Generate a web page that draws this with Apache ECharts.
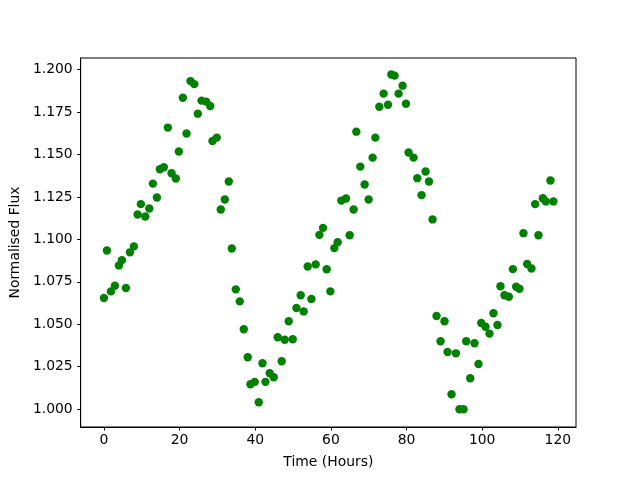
<!DOCTYPE html>
<html>
<head>
<meta charset="utf-8">
<script src="https://cdn.jsdelivr.net/npm/echarts@6/dist/echarts.min.js"></script>
<style>
  html, body { margin: 0; padding: 0; background: #fff; }
  #main { width: 640px; height: 480px; }
</style>
</head>
<body>
<div id="main"></div>
<script>
// time of each sample, hours
var hours = [
  0.00, 0.79, 1.85, 2.90, 3.96, 4.75, 5.81, 6.87, 7.92, 8.90,
  9.77, 10.93, 11.99, 12.94, 14.00, 14.79, 15.84, 16.90, 17.88, 19.01,
  19.80, 20.86, 21.84, 22.89, 23.87, 24.82, 25.80, 27.04, 28.10, 28.70,
  29.84, 30.89, 31.95, 33.01, 33.80, 34.86, 35.91, 36.97, 38.02, 38.74,
  39.87, 40.93, 41.91, 42.70, 43.83, 44.89, 45.95, 47.00, 47.80, 48.85,
  49.91, 50.89, 52.02, 52.81, 53.87, 54.85, 55.98, 56.96, 57.93, 58.89,
  59.86, 60.92, 61.79, 62.77, 64.01, 64.96, 66.01, 66.73, 67.78, 68.92,
  69.98, 71.03, 71.75, 72.80, 73.94, 75.10, 75.97, 76.84, 77.90, 78.95,
  79.85, 80.54, 81.86, 82.84, 83.97, 85.03, 85.93, 86.88, 87.93, 88.99,
  90.04, 90.84, 91.89, 93.05, 94.00, 95.06, 95.77, 96.83, 97.97, 99.02,
  99.74, 100.87, 101.93, 102.98, 104.04, 104.83, 105.89, 107.05, 108.11, 108.98,
  109.85, 110.91, 111.88, 113.02, 114.00, 114.87, 116.03, 116.82, 118.04, 118.83
];
// normalised flux of each sample
var flux = [
  1.0655, 1.0935, 1.0694, 1.0727, 1.0847, 1.0878, 1.0714, 1.0924, 1.0959, 1.1147,
  1.1208, 1.1135, 1.1182, 1.1329, 1.1247, 1.1414, 1.1425, 1.1659, 1.1390, 1.1359,
  1.1518, 1.1835, 1.1624, 1.1933, 1.1915, 1.1741, 1.1818, 1.1812, 1.1786, 1.1580,
  1.1600, 1.1176, 1.1235, 1.1341, 1.0947, 1.0706, 1.0635, 1.0471, 1.0306, 1.0147,
  1.0161, 1.0041, 1.0271, 1.0161, 1.0212, 1.0188, 1.0424, 1.0282, 1.0409, 1.0518,
  1.0412, 1.0596, 1.0671, 1.0576, 1.0841, 1.0649, 1.0853, 1.1027, 1.1068, 1.0824,
  1.0694, 1.0949, 1.0984, 1.1229, 1.1241, 1.1025, 1.1176, 1.1635, 1.1429, 1.1324,
  1.1235, 1.1482, 1.1600, 1.1782, 1.1859, 1.1794, 1.1972, 1.1965, 1.1859, 1.1906,
  1.1800, 1.1512, 1.1482, 1.1361, 1.1261, 1.1400, 1.1341, 1.1118, 1.0549, 1.0400,
  1.0518, 1.0337, 1.0088, 1.0329, 1.0000, 1.0000, 1.0400, 1.0182, 1.0388, 1.0266,
  1.0508, 1.0486, 1.0445, 1.0565, 1.0496, 1.0724, 1.0671, 1.0662, 1.0825, 1.0721,
  1.0709, 1.1037, 1.0855, 1.0829, 1.1208, 1.1025, 1.1243, 1.1224, 1.1347, 1.1224
];
var xTicks = [0, 20, 40, 60, 80, 100, 120];
var yTicks = [1.000, 1.025, 1.050, 1.075, 1.100, 1.125, 1.150, 1.175, 1.200];

var chart = echarts.init(document.getElementById('main'));
var font = 'DejaVu Sans';
var pts = hours.map(function (h, i) { return [h, flux[i]]; });

chart.setOption({
    animation: false,
    backgroundColor: '#fff',
    grid: { left: 80, right: 64, top: 58, bottom: 53, show: true, borderColor: '#000', borderWidth: 1 },
    xAxis: {
        type: 'value', min: -6.15, max: 124.8,
        name: 'Time (Hours)', nameLocation: 'middle', nameGap: 28,
        nameTextStyle: { fontFamily: font, fontSize: 13.9, color: '#000' },
        axisLine: { show: true, onZero: false, lineStyle: { color: '#000', width: 1 } },
        axisTick: { show: true, inside: false, length: 3.5, lineStyle: { color: '#000', width: 1 }, customValues: xTicks },
        axisLabel: { fontFamily: font, fontSize: 13.9, color: '#000', margin: 6, customValues: xTicks },
        splitLine: { show: false }
    },
    yAxis: {
        type: 'value', min: 0.9895, max: 1.2069,
        name: 'Normalised Flux', nameLocation: 'middle', nameGap: 53,
        nameTextStyle: { fontFamily: font, fontSize: 13.9, color: '#000' },
        axisLine: { show: true, onZero: false, lineStyle: { color: '#000', width: 1 } },
        axisTick: { show: true, inside: false, length: 3.5, lineStyle: { color: '#000', width: 1 }, customValues: yTicks },
        axisLabel: {
            fontFamily: font, fontSize: 13.9, color: '#000', margin: 8, customValues: yTicks,
            formatter: function (v) { return v.toFixed(3); }
        },
        splitLine: { show: false }
    },
    series: [{
        type: 'scatter',
        data: pts,
        symbol: 'circle',
        symbolSize: 8.4,
        itemStyle: { color: '#008000', opacity: 1 }
    }]
});
</script>
</body>
</html>
